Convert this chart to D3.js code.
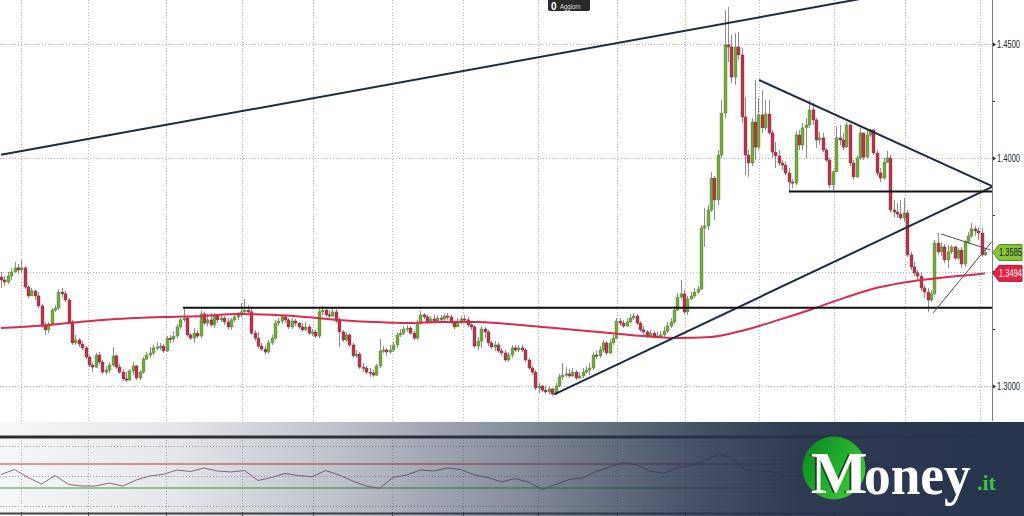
<!DOCTYPE html>
<html><head><meta charset="utf-8">
<script src="https://cdn.jsdelivr.net/npm/d3@7"></script>
<style>html,body{margin:0;padding:0;background:#fff;overflow:hidden}svg{display:block}</style>
</head><body>
<svg id="c" width="1024" height="516"></svg>
<script>
// ---------------- DATA ----------------
const firstOpen = 1.3478;
const closes = [
1.3465,1.3456,1.3482,1.3500,1.3518,1.3509,1.3518,1.3434,1.3395,1.3417,
1.3395,1.3351,1.3263,1.3246,1.3272,1.3333,1.3342,1.3412,1.3404,1.3377,
1.3281,1.3189,1.3202,1.3184,1.3167,1.3127,1.3092,1.3083,1.3136,1.3105,
1.3061,1.3070,1.3092,1.3132,1.3083,1.3061,1.3031,1.3026,1.3066,1.3088,
1.3035,1.3061,1.3118,1.3136,1.3145,1.3167,1.3171,1.3175,1.3154,1.3210,
1.3206,1.3219,1.3259,1.3290,1.3298,1.3224,1.3210,1.3232,1.3219,1.3316,
1.3276,1.3290,1.3268,1.3307,1.3290,1.3298,1.3281,1.3259,1.3290,1.3303,
1.3312,1.3325,1.3333,1.3325,1.3232,1.3210,1.3175,1.3162,1.3149,1.3189,
1.3210,1.3276,1.3285,1.3303,1.3290,1.3259,1.3285,1.3276,1.3259,1.3246,
1.3259,1.3232,1.3237,1.3219,1.3325,1.3333,1.3312,1.3307,1.3325,1.3285,
1.3237,1.3202,1.3224,1.3180,1.3132,1.3140,1.3083,1.3079,1.3061,1.3057,
1.3048,1.3088,1.3154,1.3158,1.3149,1.3158,1.3180,1.3224,1.3232,1.3250,
1.3254,1.3232,1.3210,1.3276,1.3312,1.3303,1.3281,1.3294,1.3285,1.3298,
1.3294,1.3307,1.3303,1.3281,1.3259,1.3281,1.3294,1.3290,1.3268,1.3259,
1.3175,1.3197,1.3250,1.3237,1.3189,1.3171,1.3180,1.3154,1.3145,1.3114,
1.3136,1.3167,1.3158,1.3167,1.3158,1.3114,1.3079,1.3061,1.2991,1.3000,
1.2982,1.2974,1.2987,1.2965,1.3000,1.3040,1.3048,1.3053,1.3044,1.3061,
1.3035,1.3044,1.3061,1.3070,1.3079,1.3136,1.3132,1.3158,1.3189,1.3145,
1.3189,1.3210,1.3285,1.3276,1.3263,1.3281,1.3298,1.3307,1.3276,1.3246,
1.3237,1.3219,1.3232,1.3219,1.3215,1.3224,1.3241,1.3263,1.3281,1.3333,
1.3390,1.3404,1.3325,1.3382,1.3395,1.3412,1.3425,1.3693,1.3702,1.3772,
1.3912,1.3816,1.4013,1.4197,1.4496,1.4487,1.4355,1.4487,1.4452,1.4180,
1.4013,1.3978,1.4158,1.4048,1.4189,1.4132,1.4193,1.4110,1.4026,1.4009,
1.3978,1.3969,1.3934,1.3895,1.3890,1.4101,1.4057,1.4132,1.4145,1.4211,
1.4167,1.4079,1.4088,1.4035,1.3991,1.3882,1.3939,1.4088,1.4079,1.4048,
1.4145,1.3978,1.3917,1.4000,1.4110,1.4004,1.4101,1.4123,1.4022,1.3934,
1.3912,1.3982,1.4000,1.3772,1.3763,1.3754,1.3737,1.3759,1.3575,1.3522,
1.3496,1.3482,1.3430,1.3412,1.3377,1.3404,1.3627,1.3588,1.3610,1.3553,
1.3588,1.3610,1.3561,1.3596,1.3535,1.3632,1.3658,1.3689,1.3680,1.3671,
1.3575,1.3585];
const highs = [
1.3500,1.3482,1.3500,1.3518,1.3544,1.3535,1.3553,1.3526,1.3443,1.3430,
1.3421,1.3412,1.3360,1.3281,1.3281,1.3342,1.3355,1.3425,1.3430,1.3417,
1.3386,1.3290,1.3224,1.3210,1.3197,1.3175,1.3136,1.3105,1.3145,1.3149,
1.3114,1.3088,1.3105,1.3171,1.3140,1.3097,1.3075,1.3061,1.3075,1.3105,
1.3092,1.3070,1.3127,1.3149,1.3171,1.3180,1.3193,1.3189,1.3184,1.3219,
1.3224,1.3241,1.3272,1.3298,1.3338,1.3307,1.3232,1.3254,1.3246,1.3329,
1.3325,1.3316,1.3320,1.3320,1.3316,1.3316,1.3307,1.3298,1.3298,1.3316,
1.3325,1.3364,1.3382,1.3355,1.3347,1.3246,1.3237,1.3189,1.3175,1.3202,
1.3224,1.3290,1.3298,1.3316,1.3312,1.3298,1.3298,1.3294,1.3281,1.3276,
1.3281,1.3272,1.3250,1.3246,1.3338,1.3351,1.3342,1.3333,1.3342,1.3338,
1.3298,1.3246,1.3237,1.3232,1.3189,1.3158,1.3149,1.3101,1.3088,1.3079,
1.3070,1.3097,1.3206,1.3175,1.3167,1.3180,1.3193,1.3237,1.3250,1.3263,
1.3268,1.3263,1.3241,1.3290,1.3329,1.3320,1.3312,1.3307,1.3312,1.3312,
1.3312,1.3316,1.3320,1.3312,1.3285,1.3298,1.3307,1.3312,1.3303,1.3281,
1.3268,1.3215,1.3263,1.3259,1.3246,1.3197,1.3197,1.3189,1.3167,1.3158,
1.3149,1.3180,1.3180,1.3180,1.3180,1.3167,1.3123,1.3088,1.3070,1.3013,
1.3004,1.3000,1.3000,1.2991,1.3013,1.3053,1.3101,1.3083,1.3075,1.3079,
1.3070,1.3061,1.3079,1.3088,1.3101,1.3149,1.3154,1.3175,1.3202,1.3197,
1.3206,1.3224,1.3298,1.3298,1.3290,1.3298,1.3316,1.3320,1.3316,1.3285,
1.3263,1.3246,1.3246,1.3241,1.3241,1.3241,1.3259,1.3281,1.3298,1.3351,
1.3408,1.3465,1.3421,1.3395,1.3412,1.3430,1.3439,1.3706,1.3781,1.3794,
1.3939,1.3921,1.4035,1.4254,1.4649,1.4662,1.4540,1.4548,1.4553,1.4482,
1.4268,1.4035,1.4175,1.4342,1.4263,1.4298,1.4254,1.4254,1.4123,1.4070,
1.4035,1.3991,1.3982,1.3956,1.3908,1.4118,1.4123,1.4154,1.4175,1.4254,
1.4241,1.4175,1.4114,1.4110,1.4044,1.4000,1.3947,1.4140,1.4145,1.4110,
1.4158,1.4149,1.3991,1.4009,1.4132,1.4110,1.4123,1.4127,1.4127,1.4035,
1.3956,1.4000,1.4031,1.4013,1.3816,1.3803,1.3816,1.3825,1.3772,1.3588,
1.3544,1.3509,1.3500,1.3443,1.3430,1.3421,1.3640,1.3671,1.3632,1.3623,
1.3618,1.3618,1.3614,1.3605,1.3610,1.3640,1.3675,1.3715,1.3702,1.3697,
1.3693,1.3605];
const lows = [
1.3430,1.3439,1.3447,1.3465,1.3496,1.3491,1.3500,1.3425,1.3386,1.3395,
1.3377,1.3342,1.3254,1.3224,1.3232,1.3263,1.3325,1.3333,1.3390,1.3368,
1.3272,1.3180,1.3180,1.3171,1.3158,1.3118,1.3083,1.3061,1.3079,1.3097,
1.3053,1.3048,1.3057,1.3083,1.3075,1.3053,1.3022,1.3018,1.3022,1.3048,
1.3026,1.3026,1.3053,1.3114,1.3123,1.3136,1.3158,1.3158,1.3145,1.3149,
1.3189,1.3193,1.3210,1.3250,1.3281,1.3215,1.3202,1.3189,1.3210,1.3210,
1.3268,1.3263,1.3259,1.3254,1.3276,1.3281,1.3268,1.3246,1.3246,1.3281,
1.3290,1.3303,1.3316,1.3312,1.3224,1.3197,1.3167,1.3154,1.3136,1.3140,
1.3180,1.3202,1.3263,1.3272,1.3276,1.3250,1.3250,1.3263,1.3250,1.3237,
1.3241,1.3224,1.3219,1.3210,1.3210,1.3312,1.3303,1.3298,1.3303,1.3276,
1.3171,1.3193,1.3193,1.3171,1.3123,1.3123,1.3075,1.3061,1.3053,1.3040,
1.3040,1.3044,1.3079,1.3145,1.3132,1.3140,1.3149,1.3167,1.3215,1.3224,
1.3237,1.3224,1.3202,1.3202,1.3268,1.3294,1.3272,1.3276,1.3276,1.3281,
1.3281,1.3285,1.3290,1.3272,1.3250,1.3259,1.3272,1.3276,1.3259,1.3246,
1.3167,1.3158,1.3167,1.3210,1.3175,1.3162,1.3154,1.3145,1.3132,1.3105,
1.3105,1.3123,1.3149,1.3149,1.3149,1.3105,1.3070,1.3048,1.2982,1.2969,
1.2974,1.2965,1.2965,1.2956,1.2961,1.2996,1.3026,1.3040,1.3035,1.3040,
1.3026,1.3031,1.3035,1.3053,1.3048,1.3070,1.3118,1.3123,1.3149,1.3136,
1.3140,1.3180,1.3206,1.3263,1.3254,1.3259,1.3276,1.3290,1.3268,1.3237,
1.3224,1.3210,1.3215,1.3210,1.3210,1.3210,1.3215,1.3232,1.3254,1.3272,
1.3329,1.3382,1.3316,1.3312,1.3377,1.3386,1.3404,1.3421,1.3610,1.3684,
1.3763,1.3728,1.3794,1.4000,1.4175,1.4421,1.4329,1.4320,1.4430,1.4154,
1.3925,1.3917,1.3965,1.3991,1.4035,1.4110,1.4123,1.4101,1.4000,1.3956,
1.3965,1.3947,1.3925,1.3847,1.3868,1.3882,1.4035,1.4035,1.4000,1.4132,
1.4145,1.4044,1.4057,1.4026,1.3982,1.3868,1.3860,1.3939,1.4057,1.4035,
1.4044,1.3965,1.3904,1.3912,1.3991,1.3991,1.4000,1.4092,1.4013,1.3921,
1.3895,1.3904,1.3978,1.3759,1.3741,1.3737,1.3728,1.3719,1.3566,1.3509,
1.3482,1.3465,1.3417,1.3386,1.3325,1.3368,1.3399,1.3575,1.3570,1.3539,
1.3518,1.3579,1.3553,1.3553,1.3518,1.3522,1.3623,1.3649,1.3658,1.3640,
1.3566,1.3570];

// 200-day moving average, read at every 10th session
const maIndex  = [0,10,20,30,40,50,60,70,80,90,100,110,120,130,140,150,160,170,180,190,200,210,220,230,240,250,260,270,280,290,291];
const maValues = [1.3254,1.3263,1.3276,1.3290,1.3298,1.3303,1.3307,1.3316,1.3312,1.3303,1.3290,1.3281,1.3276,1.3281,1.3281,1.3272,1.3259,1.3246,1.3232,1.3219,1.3210,1.3215,1.3246,1.3290,1.3338,1.3390,1.3434,1.3461,1.3478,1.3492,1.3494];

// oscillator (lower panel), read every 4th session
const rsiStep = 4;
const rsiValues = [
52.5,60.8,47.5,36.7,50.8,35.8,33.3,33.3,38.3,33.3,
43.3,50,52.8,60,57.5,63.3,58.3,56.7,59.2,42.5,
47.5,54.2,50.8,48.8,59.2,51.7,41.7,33.3,29.5,47.8,
51.7,60,58.3,63.3,60.8,51.7,47.5,40,45.8,40,
27.5,35.8,44.2,46.7,57.5,65,72.2,68.3,58.3,54.2,
64.2,67.5,75,86.7,80.8,60,58.3,56.7,50,50,
55,58.3,60,61.7,64.2,66.7,53.3,40,33.3,30,
53.3,61.7,58.3];
const rsiLevels = [30, 70];
const rsiGrid = [0, 50, 100];

const priceGrid = [1.30, 1.35, 1.40, 1.45];
const priceLabelValues = [1.30, 1.40, 1.45];
const priceTickLabels = ["1.3000", "1.4000", "1.4500"];
const minorTicks = [1.325, 1.375, 1.425];
const monthGridIndex = [5.91, 25.73, 48.80, 71.27, 92.27, 115.63, 136.63, 158.81, 182.17, 202.28, 224.16, 246.34, 267.34, 289.52];

const lastPrice = 1.3585, lastPriceLabel = "1.3585";
const lastMA = 1.3494, lastMALabel = "1.3494";

// drawn lines: [index, price] endpoints
const trendLines = [
  {kind: "trend", a: [0, 1.4014], b: [255, 1.4700]},
  {kind: "trend", a: [224.2, 1.4342], b: [293.1, 1.3877]},
  {kind: "trend", a: [163.6, 1.2963], b: [293.1, 1.3873]},
  {kind: "level", a: [233.1, 1.3853], b: [293.1, 1.3853]},
  {kind: "level", a: [53.8, 1.3343], b: [293.1, 1.3343]},
  {kind: "thin", a: [278.0, 1.3667], b: [292.5, 1.3597]},
  {kind: "thin", a: [275.7, 1.3321], b: [293.0, 1.3633]}
];

// ---------------- DRAW ----------------
const svg = d3.select("#c");
const plotRight = 992, mainBottom = 421;
const narrow = "'Liberation Sans Narrow','Arial Narrow','Liberation Sans',sans-serif";
const x = d3.scaleLinear().domain([0, closes.length - 1]).range([1, 985]);
const y = d3.scaleLinear().domain([1.30, 1.45]).range([386, 44]);
const ry = d3.scaleLinear().domain([0, 100]).range([506, 446]);

const defs = svg.append("defs");
defs.append("clipPath").attr("id", "mainClip").append("rect")
  .attr("x", 0).attr("y", 0).attr("width", plotRight).attr("height", mainBottom);
const ov = defs.append("linearGradient").attr("id", "ov").attr("x1", 0).attr("x2", 1).attr("y1", 0).attr("y2", 0);
[[0, 0.04], [0.17, 0.12], [0.33, 0.3], [0.5, 0.55], [0.6, 0.72], [0.68, 0.85], [0.78, 0.96], [1, 1]].forEach(s =>
  ov.append("stop").attr("offset", s[0]).attr("stop-color", "#26334c").attr("stop-opacity", s[1]));
const lg = defs.append("linearGradient").attr("id", "lg").attr("x1", 0).attr("x2", 1).attr("y1", 0.2).attr("y2", 0.8);
lg.append("stop").attr("offset", 0).attr("stop-color", "#0c8a1f");
lg.append("stop").attr("offset", 1).attr("stop-color", "#3ccf3a");

svg.append("rect").attr("width", 1024).attr("height", 516).attr("fill", "#fff");

// gridlines main
const grid = svg.append("g").attr("stroke", "#b4b4b4").attr("stroke-width", 1).attr("stroke-dasharray", "1,2");
grid.selectAll("line.v").data(monthGridIndex).join("line")
  .attr("x1", d => Math.round(x(d)) + 0.5).attr("x2", d => Math.round(x(d)) + 0.5)
  .attr("y1", 0).attr("y2", mainBottom);
grid.selectAll("line.h").data(priceGrid).join("line")
  .attr("x1", 0).attr("x2", plotRight).attr("y1", d => Math.round(y(d)) + 0.5).attr("y2", d => Math.round(y(d)) + 0.5);

// candles
const candles = closes.map((c, i) => {
  const o = i ? closes[i - 1] : firstOpen;
  return {i, o, c, h: Math.max(highs[i], o, c), l: Math.min(lows[i], o, c)};
});
const main = svg.append("g").attr("clip-path", "url(#mainClip)");
main.append("g").selectAll("line").data(candles).join("line")
  .attr("x1", d => Math.round(x(d.i)) + 0.5).attr("x2", d => Math.round(x(d.i)) + 0.5)
  .attr("y1", d => y(d.h)).attr("y2", d => y(d.l))
  .attr("stroke", "#8d8d8d").attr("stroke-width", 1);
main.append("g").selectAll("rect").data(candles).join("rect")
  .attr("x", d => Math.round(x(d.i)) - 1).attr("width", 3)
  .attr("y", d => y(Math.max(d.o, d.c)))
  .attr("height", d => Math.max(1.2, Math.abs(y(d.o) - y(d.c))))
  .attr("fill", d => d.c >= d.o ? "#72a93e" : "#b5374b")
  .attr("stroke", d => d.c >= d.o ? "#557f2c" : "#8c2737").attr("stroke-width", 0.4);

// moving average
main.append("path")
  .datum(maIndex.map((d, k) => [d, maValues[k]]))
  .attr("d", d3.line().x(d => x(d[0])).y(d => y(d[1])).curve(d3.curveMonotoneX))
  .attr("fill", "none").attr("stroke", "#d92b4b").attr("stroke-width", 2);

// trend lines
const lineStyle = {trend: ["#1c2b3f", 2], level: ["#101010", 2], thin: ["#4a4a4a", 1]};
main.append("g").selectAll("line").data(trendLines).join("line")
  .attr("x1", d => x(d.a[0])).attr("y1", d => y(d.a[1]))
  .attr("x2", d => x(d.b[0])).attr("y2", d => y(d.b[1]))
  .attr("stroke", d => lineStyle[d.kind][0]).attr("stroke-width", d => lineStyle[d.kind][1]);

// right axis
const ax = svg.append("g");
ax.append("line").attr("x1", plotRight + 0.5).attr("x2", plotRight + 0.5).attr("y1", 0).attr("y2", mainBottom)
  .attr("stroke", "#7a7a7a").attr("stroke-width", 1);
ax.selectAll("path.tk").data(priceGrid).join("path")
  .attr("d", d => { const yy = Math.round(y(d)) + 0.5; return `M${plotRight + 1},${yy - 2}L${plotRight + 4},${yy}L${plotRight + 1},${yy + 2}Z`; })
  .attr("fill", "#222");
ax.selectAll("line.mt").data(minorTicks).join("line")
  .attr("x1", plotRight + 1).attr("x2", plotRight + 3)
  .attr("y1", d => Math.round(y(d)) + 0.5).attr("y2", d => Math.round(y(d)) + 0.5)
  .attr("stroke", "#333");
ax.selectAll("text").data(priceLabelValues).join("text")
  .attr("transform", d => `translate(${plotRight + 5},${y(d)}) scale(0.72,1)`)
  .attr("dy", "0.35em")
  .attr("font-family", narrow).attr("font-size", 10.5).attr("fill", "#222")
  .text((d, k) => priceTickLabels[k]);

// value tags
function tag(val, label, fill, stroke, txt) {
  const yc = y(val);
  svg.append("path")
    .attr("d", `M${plotRight + 1},${yc}L${plotRight + 7},${yc - 8}L1022,${yc - 8}L1022,${yc + 8}L${plotRight + 7},${yc + 8}Z`)
    .attr("fill", fill).attr("stroke", stroke).attr("stroke-width", 1);
  svg.append("text").attr("transform", `translate(${plotRight + 7},${yc}) scale(0.72,1)`).attr("dy", "0.36em")
    .attr("font-family", narrow).attr("font-size", 10.5).attr("fill", txt).text(label);
}
tag(lastPrice, lastPriceLabel, "#86c43a", "#4d8a1f", "#1a1a1a");
tag(lastMA, lastMALabel, "#e3223f", "#b0142c", "#ffffff");

// lower panel
const low = svg.append("g");
low.append("line").attr("x1", 0).attr("x2", 1024).attr("y1", 437).attr("y2", 437).attr("stroke", "#2e2e2e").attr("stroke-width", 3);
low.selectAll("line.g").data(rsiGrid).join("line")
  .attr("x1", 0).attr("x2", plotRight).attr("y1", d => Math.round(ry(d)) + 0.5).attr("y2", d => Math.round(ry(d)) + 0.5)
  .attr("stroke", "#a8a8a8").attr("stroke-dasharray", "1,2");
low.selectAll("line.v").data(monthGridIndex).join("line")
  .attr("x1", d => Math.round(x(d)) + 0.5).attr("x2", d => Math.round(x(d)) + 0.5)
  .attr("y1", 440).attr("y2", 512)
  .attr("stroke", "#b4b4b4").attr("stroke-dasharray", "1,2");
low.selectAll("line.lv").data(rsiLevels).join("line")
  .attr("x1", 0).attr("x2", plotRight).attr("y1", d => ry(d)).attr("y2", d => ry(d))
  .attr("stroke", d => d > 50 ? "#e07a7a" : "#7cc27c").attr("stroke-width", 1.5);
low.append("path")
  .datum(rsiValues.map((v, k) => [k * rsiStep, v]))
  .attr("d", d3.line().x(d => x(d[0])).y(d => ry(d[1])))
  .attr("fill", "none").attr("stroke", "#9a6a80").attr("stroke-width", 1);
low.append("line").attr("x1", 0).attr("x2", 1024).attr("y1", 513.5).attr("y2", 513.5).attr("stroke", "#444").attr("stroke-width", 2);
low.selectAll("line.bt").data(monthGridIndex).join("line")
  .attr("x1", d => Math.round(x(d)) + 0.5).attr("x2", d => Math.round(x(d)) + 0.5)
  .attr("y1", 512).attr("y2", 516).attr("stroke", "#444");

// overlay band
svg.append("rect").attr("x", 0).attr("y", 422).attr("width", 1024).attr("height", 94).attr("fill", "url(#ov)");

// top badge
svg.append("rect").attr("x", 548).attr("y", -4).attr("width", 42).attr("height", 15).attr("rx", 2).attr("fill", "#2a2a2a");
svg.append("text").attr("x", 551).attr("y", 9.5).attr("font-family", "Liberation Sans").attr("font-weight", "bold")
  .attr("font-size", 10).attr("fill", "#fff").text("0");
svg.append("text").attr("transform", "translate(560,8.5) scale(0.8,1)").attr("font-family", narrow)
  .attr("font-size", 7.5).attr("fill", "#ddd").text("Aggiorn");

// logo
const logo = svg.append("g");
logo.append("circle").attr("cx", 834).attr("cy", 468).attr("r", 31.5).attr("fill", "url(#lg)");
logo.append("text").attr("x", 839).attr("y", 493).attr("text-anchor", "middle")
  .attr("font-family", "'Liberation Serif','DejaVu Serif',serif").attr("font-weight", "bold")
  .attr("font-size", 60).attr("fill", "#174a22").attr("transform", "translate(-2,0)").text("M");
logo.append("text").attr("x", 839).attr("y", 493).attr("text-anchor", "middle")
  .attr("font-family", "'Liberation Serif','DejaVu Serif',serif").attr("font-weight", "bold")
  .attr("font-size", 60).attr("fill", "#ffffff").text("M");
logo.append("text").attr("transform", "translate(864,494) scale(0.92,1)")
  .attr("font-family", "'Liberation Serif','DejaVu Serif',serif").attr("font-weight", "bold")
  .attr("font-size", 58).attr("fill", "#ffffff").text("oney");
logo.append("text").attr("x", 977).attr("y", 490)
  .attr("font-family", "'Liberation Serif','DejaVu Serif',serif").attr("font-weight", "bold")
  .attr("font-size", 22).attr("fill", "#3cc43c").text(".it");
</script>
</body></html>
